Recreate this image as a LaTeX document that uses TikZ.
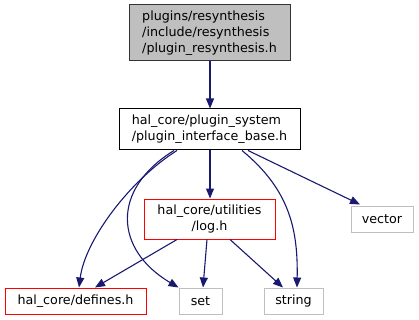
\documentclass[tikz,border=0pt]{standalone}
\usepackage{fontspec}
\setmainfont{DejaVu Sans}
\usetikzlibrary{arrows.meta,calc}
\definecolor{edgeblue}{HTML}{191970}
\definecolor{boxgray}{HTML}{BFBFBF}
\tikzset{
  box/.style={draw, line width=1pt, inner sep=0pt, font=\fontsize{12.7}{16}\selectfont},
  mainbox/.style={box, draw=black!80, fill=boxgray},
  normalbox/.style={box, draw=black},
  redbox/.style={box, draw=red},
  graybox/.style={box, draw=boxgray},
  dep/.style={draw=edgeblue, line width=1.1pt, -{Triangle[length=10pt,width=8pt]}, fill=none},
}
\begin{document}
\begin{tikzpicture}[x=1pt,y=-1pt]
\useasboundingbox (0,0) rectangle (419,320);
\node[mainbox, minimum width=161pt, minimum height=56pt, align=left] (top) at (209.5,33) {plugins/resynthesis\\/include/resynthesis\\/plugin\_resynthesis.h};
\node[normalbox, minimum width=181pt, minimum height=41pt, align=left] (pib) at (209.5,129.5) {hal\_core/plugin\_system\\/plugin\_interface\_base.h};
\node[redbox, minimum width=131pt, minimum height=40pt, align=center] (log) at (209.5,219) {hal\_core/utilities\\/log.h};
\node[graybox, minimum width=62pt, minimum height=26pt] (vec) at (382,219) {vector};
\node[redbox, minimum width=141pt, minimum height=26pt] (def) at (75.5,301) {hal\_core/defines.h};
\node[graybox, minimum width=43pt, minimum height=26pt] (set) at (200.5,301) {set};
\node[graybox, minimum width=59pt, minimum height=26pt] (str) at (293.5,301) {string};

\draw[dep] ([xshift=0.5pt]top.south) -- ([xshift=0.5pt]pib.north);
\draw[dep] ([xshift=0.5pt]pib.south) -- ([xshift=0.5pt]log.north);
\draw[dep] ([xshift=38.5pt]pib.south) -- ([xshift=-22pt,yshift=1pt]vec.north);
\draw[dep] ([xshift=32.5pt]pib.south) .. controls (290,190) and (298,230) .. ([xshift=3.5pt]str.north);
\draw[dep] ([xshift=-32.5pt]pib.south) .. controls (130,180) and (85,240) .. ([xshift=3.5pt]def.north);
\draw[dep] ([xshift=-35.5pt]pib.south) .. controls (110,190) and (115,250) .. ([xshift=-22pt]set.north);
\draw[dep] ([xshift=-32.5pt]log.south) -- ([xshift=19.5pt]def.north);
\draw[dep] ([xshift=-2.5pt]log.south) -- ([xshift=2.5pt]set.north);
\draw[dep] ([xshift=20.5pt]log.south) -- ([xshift=-10.5pt]str.north);
\end{tikzpicture}
\end{document}
